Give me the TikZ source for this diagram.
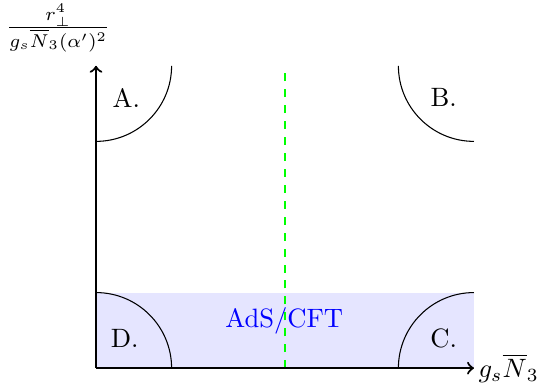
\documentclass[tikz,border=0pt]{standalone}
\begin{document}
\begin{tikzpicture}[x=1cm,y=1cm,
  axis/.style={thick,->},
  arcline/.style={black},
  region/.style={fill=blue!10,draw=none},
  lbl/.style={inner sep=1pt}]
\useasboundingbox (-1.27,-0.225) rectangle (5.86,4.87);
\coordinate (O) at (0,0);
\coordinate (X) at (5,0);
\coordinate (Y) at (0,4);
\coordinate (Gb) at (2.5,0);
\coordinate (Gt) at (2.5,3.92);
\fill[region] (0,0) rectangle (5,1);
\draw[arcline] (0,3) arc[start angle=270,end angle=360,radius=1];
\draw[arcline] (4,4) arc[start angle=180,end angle=270,radius=1];
\draw[arcline] (4,0) arc[start angle=180,end angle=90,radius=1];
\draw[arcline] (1,0) arc[start angle=0,end angle=90,radius=1];
\draw[green,dashed,thick] (Gb) -- (Gt);
\draw[axis] (O) -- (X);
\draw[axis] (O) -- (Y);
\node[lbl] (A) at (0.40,3.58) {A.};
\node[lbl] (B) at (4.60,3.58) {B.};
\node[lbl] (C) at (4.60,0.40) {C.};
\node[lbl] (D) at (0.38,0.40) {D.};
\node[lbl,blue] (ads) at (2.49,0.63) {AdS/CFT};
\node[anchor=west,inner sep=1.5pt] (xl) at (X) {$g_s\overline{N}_3$};
\node (yl) at (-0.50,4.50) {$\frac{r_{\perp}^4}{g_s\overline{N}_3(\alpha')^2}$};
\end{tikzpicture}
\end{document}
